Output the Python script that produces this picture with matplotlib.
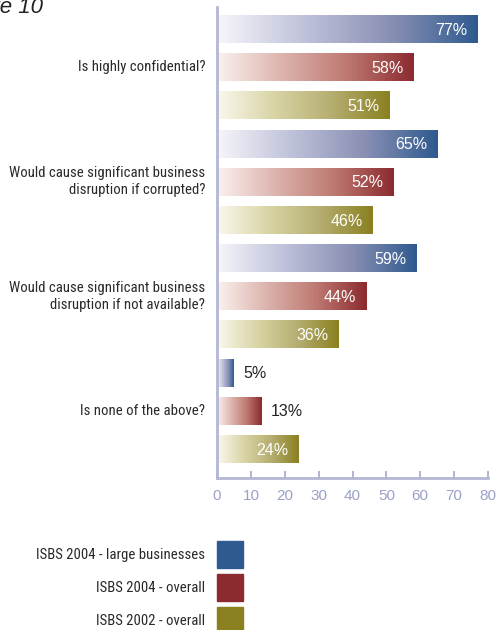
import numpy as np
import matplotlib.pyplot as plt
from matplotlib import font_manager
from matplotlib.colors import LinearSegmentedColormap
from matplotlib.patches import Rectangle

# Survey answers, three series per question
questions = [
    "Is highly confidential?",
    "Would cause significant business\ndisruption if corrupted?",
    "Would cause significant business\ndisruption if not available?",
    "Is none of the above?",
]
series = ["ISBS 2004 - large businesses", "ISBS 2004 - overall", "ISBS 2002 - overall"]
large_2004 = [77, 65, 59, 5]
overall_2004 = [58, 52, 44, 13]
overall_2002 = [51, 46, 36, 24]
xticks = [0, 10, 20, 30, 40, 50, 60, 70, 80]

# pick a narrow face if there is one, otherwise shrink the regular one
names = {f.name for f in font_manager.fontManager.ttflist}
narrow = "Liberation Sans"
for cand in ["Roboto Condensed", "Liberation Sans Narrow", "Open Sans Condensed", "Roboto"]:
    if cand in names:
        narrow = cand
        break

solid = ["#2f5a8f", "#8b2a2f", "#8a8020"]
ramps = [
    ["#f6f6fa", "#bfc2da", "#8a90b4", "#2f5a8f"],
    ["#fbf1ef", "#dcb3ad", "#bd7870", "#8b2a2f"],
    ["#faf8ee", "#d8d4a4", "#b5ad70", "#8a8020"],
]
cmaps = [LinearSegmentedColormap.from_list(f"r{i}", r) for i, r in enumerate(ramps)]

fig = plt.figure(figsize=(4.96, 6.30), dpi=100)
ax = fig.add_axes([217 / 496, 1 - 478 / 630, 271 / 496, 471 / 630])

# size the label font so the long question line is about 193 px wide
renderer = fig.canvas.get_renderer()
probe = fig.text(0, 0, "Would cause significant business", fontsize=10, family=narrow)
w = probe.get_window_extent(renderer).width
probe.remove()
label_size = min(11.5, 10 * 193 / w)

values = [large_2004, overall_2004, overall_2002]
bar_h = 0.73
grad = np.linspace(0, 1, 256).reshape(1, -1)
for q in range(len(questions)):
    for s in range(3):
        y = q * 3 + s
        v = values[s][q]
        ax.imshow(grad, cmap=cmaps[s], aspect="auto", interpolation="bilinear",
                  extent=(0, v, y + bar_h / 2, y - bar_h / 2), zorder=2)
        if v > 20:
            ax.text(v - 3, y + 0.03, f"{v}%", ha="right", va="center",
                    color="white", fontsize=11.5, family="Liberation Sans", zorder=3)
        else:
            ax.text(v + 2.8, y + 0.03, f"{v}%", ha="left", va="center",
                    color="#222222", fontsize=11.5, family="Liberation Sans", zorder=3)

ax.set_xlim(0, 80)
ax.set_ylim(11.76, -0.58)
ax.set_yticks([])
ax.set_xticks(xticks)
ax.set_xticklabels([str(t) for t in xticks], family="Liberation Sans", fontsize=11)
ax.tick_params(axis="x", direction="in", length=5, width=1.2, colors="#a3a8cc",
               labelcolor="#9aa0c8", pad=8)
for side in ["top", "right"]:
    ax.spines[side].set_visible(False)
for side in ["left", "bottom"]:
    ax.spines[side].set_color("#b3b7d4")
    ax.spines[side].set_linewidth(2)

# Question labels sit beside the middle bar of each group
for q, label in enumerate(questions):
    ax.text(-3.5, q * 3 + 1, label, ha="right", va="center", fontsize=label_size,
            family=narrow, color="#2a2a2a", linespacing=1.3,
            transform=ax.transData, clip_on=False)

# Legend drawn as swatches with right-aligned labels
for i, (name, col) in enumerate(zip(series, solid)):
    top = 541 + i * 33
    fig.patches.append(Rectangle((217 / 496, 1 - (top + 27) / 630), 26 / 496, 27 / 630,
                                 transform=fig.transFigure, color=col))
    fig.text(205 / 496, 1 - (top + 14) / 630, name, ha="right", va="center",
             fontsize=label_size, family=narrow, color="#2a2a2a")

fig.text(43 / 496, 1 - 13 / 630, "Figure 10", ha="right", va="baseline",
         fontsize=16, style="italic", family="Liberation Sans", color="#222222")

fig.savefig("out.png", dpi=100)
